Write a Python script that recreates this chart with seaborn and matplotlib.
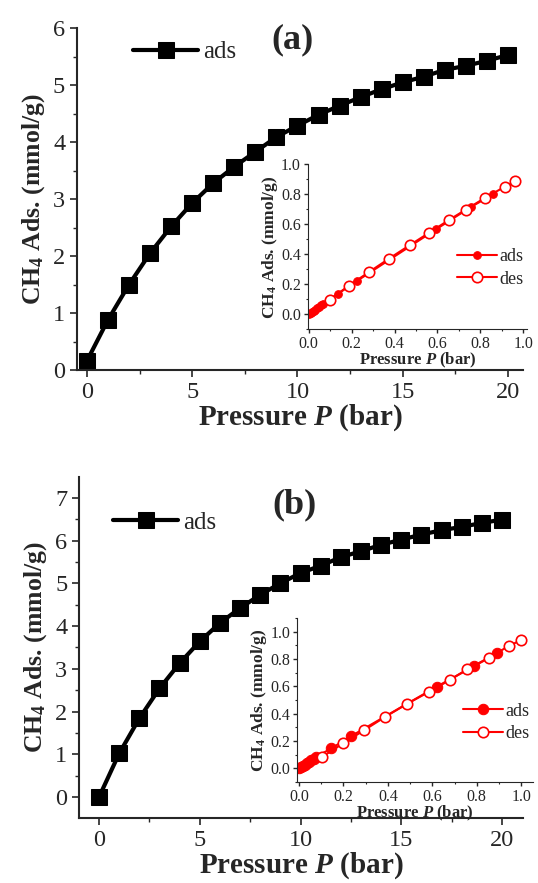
import matplotlib
matplotlib.use("Agg")
import matplotlib.pyplot as plt
from matplotlib.ticker import MultipleLocator, FormatStrFormatter
import seaborn as sns

# main isotherms (0-20 bar)
pressure = list(range(21))
ads_a = [0.16, 0.88, 1.50, 2.05, 2.52, 2.93, 3.28, 3.57, 3.83, 4.09, 4.29,
         4.48, 4.64, 4.79, 4.93, 5.05, 5.15, 5.27, 5.34, 5.43, 5.53]
ads_b = [0.00, 1.02, 1.84, 2.54, 3.13, 3.64, 4.07, 4.42, 4.73, 5.00, 5.24,
         5.41, 5.61, 5.75, 5.90, 6.02, 6.14, 6.24, 6.32, 6.41, 6.49]

# insets (0-1 bar)
in_ads_p_a = [0.002, 0.008, 0.015, 0.023, 0.031, 0.040, 0.049, 0.058, 0.067,
              0.137, 0.226, 0.594, 0.757, 0.860]
in_ads_q_a = [0.003, 0.009, 0.016, 0.024, 0.032, 0.041, 0.050, 0.060, 0.071,
              0.138, 0.224, 0.567, 0.716, 0.800]
in_des_p_a = [0.098, 0.187, 0.281, 0.374, 0.470, 0.562, 0.652, 0.733, 0.822, 0.913, 0.964]
in_des_q_a = [0.098, 0.191, 0.282, 0.371, 0.460, 0.544, 0.627, 0.698, 0.776, 0.849, 0.887]

in_ads_p_b = [0.002, 0.008, 0.016, 0.025, 0.035, 0.045, 0.056, 0.067, 0.078,
              0.146, 0.236, 0.620, 0.789, 0.892]
in_ads_q_b = [0.002, 0.008, 0.017, 0.026, 0.036, 0.047, 0.058, 0.070, 0.085,
              0.146, 0.237, 0.598, 0.749, 0.841]
in_des_p_b = [0.105, 0.199, 0.294, 0.389, 0.485, 0.584, 0.678, 0.756, 0.854, 0.947, 1.000]
in_des_q_b = [0.085, 0.183, 0.280, 0.378, 0.471, 0.559, 0.646, 0.724, 0.810, 0.898, 0.939]

sns.set_style("ticks")
plt.rcParams['font.family'] = ['Liberation Serif', 'DejaVu Serif']
plt.rcParams['mathtext.fontset'] = 'custom'
plt.rcParams['mathtext.rm'] = 'Liberation Serif:bold'
plt.rcParams['mathtext.bf'] = 'Liberation Serif:bold'
plt.rcParams['mathtext.it'] = 'Liberation Serif:bold:italic'
plt.rcParams['xtick.direction'] = 'out'
plt.rcParams['ytick.direction'] = 'out'

fig = plt.figure(figsize=(5.38, 8.83), dpi=100)

ylab = r'CH$_{\mathbf{4}}$ Ads. (mmol/g)'
xlab = r'Pressure $P$ (bar)'


def main_panel(rect, y, xlim, ylim, yticks, title, title_xy, leg_xy):
    ax = fig.add_axes(rect)
    sns.lineplot(x=pressure, y=y, ax=ax, color='black', marker='s', markersize=11,
                 markeredgecolor='black', linewidth=3, label='ads', legend=False)
    ax.set_xlim(*xlim)
    ax.set_ylim(*ylim)
    ax.set_xticks([0, 5, 10, 15, 20])
    ax.set_yticks(yticks)
    ax.xaxis.set_minor_locator(MultipleLocator(2.5))
    ax.yaxis.set_minor_locator(MultipleLocator(0.5))
    ax.tick_params(which='major', labelsize=17.5, length=5, width=1.2)
    ax.tick_params(which='minor', length=3, width=1)
    for s in ['top', 'right']:
        ax.spines[s].set_visible(False)
    for s in ['left', 'bottom']:
        ax.spines[s].set_linewidth(1.5)
    ax.set_xlabel(xlab, fontsize=21, fontweight='bold', labelpad=0)
    ax.set_ylabel(ylab, fontsize=18.5, fontweight='bold', labelpad=4)
    ax.text(title_xy[0], title_xy[1], title, transform=ax.transAxes, fontsize=26,
            fontweight='bold', ha='center', va='center')
    ax.legend(loc='center left', bbox_to_anchor=leg_xy, frameon=False, fontsize=18,
              handlelength=2.6, handletextpad=0.2, borderpad=0, borderaxespad=0)
    return ax


def inset_panel(rect, ap, aq, dp, dq, xlim, ylim, ads_ms, leg_xy):
    ax = fig.add_axes(rect)
    sns.lineplot(x=ap, y=aq, ax=ax, color='red', marker='o', markersize=ads_ms,
                 markeredgecolor='red', linewidth=1.5, label='ads', legend=False)
    sns.lineplot(x=dp, y=dq, ax=ax, color='red', marker='o', markersize=7.5,
                 markerfacecolor='white', markeredgecolor='red', markeredgewidth=1.2,
                 linewidth=1.5, label='des', legend=False)
    ax.set_xlim(*xlim)
    ax.set_ylim(*ylim)
    ax.set_xticks([0.0, 0.2, 0.4, 0.6, 0.8, 1.0])
    ax.set_yticks([0.0, 0.2, 0.4, 0.6, 0.8, 1.0])
    ax.xaxis.set_major_formatter(FormatStrFormatter('%.1f'))
    ax.yaxis.set_major_formatter(FormatStrFormatter('%.1f'))
    ax.xaxis.set_minor_locator(MultipleLocator(0.1))
    ax.yaxis.set_minor_locator(MultipleLocator(0.1))
    ax.tick_params(which='major', labelsize=11.5, length=3, width=1, pad=2)
    ax.tick_params(which='minor', length=1.5, width=0.8)
    ax.patch.set_alpha(0)
    for s in ['top', 'right']:
        ax.spines[s].set_visible(False)
    ax.set_xlabel(xlab, fontsize=12, fontweight='bold', labelpad=-1)
    ax.set_ylabel(ylab, fontsize=12.5, fontweight='bold', labelpad=1)
    ax.legend(loc='center left', bbox_to_anchor=leg_xy, frameon=False, fontsize=13,
              handlelength=2.2, handletextpad=0.15, borderpad=0, borderaxespad=0,
              labelspacing=0.3)
    return ax


main_panel([0.143, 0.581, 0.829, 0.387], ads_a, (-0.475, 20.71), (0, 6),
           [0, 1, 2, 3, 4, 5, 6], '(a)', (0.484, 0.965), (0.126, 0.93))
main_panel([0.147, 0.0736, 0.825, 0.3864], ads_b, (-0.99, 21.04), (-0.49, 7.49),
           [0, 1, 2, 3, 4, 5, 6, 7], '(b)', (0.486, 0.918), (0.077, 0.865))

inset_panel([0.572, 0.627, 0.408, 0.187], in_ads_p_a, in_ads_q_a, in_des_p_a, in_des_q_a,
            (-0.005, 1.019), (-0.1, 1.0), 5.5, (0.68, 0.372))
inset_panel([0.552, 0.1144, 0.439, 0.1856], in_ads_p_b, in_ads_q_b, in_des_p_b, in_des_q_b,
            (-0.009, 1.054), (-0.1, 1.1), 7.5, (0.703, 0.364))

fig.savefig('out.png', dpi=100)
